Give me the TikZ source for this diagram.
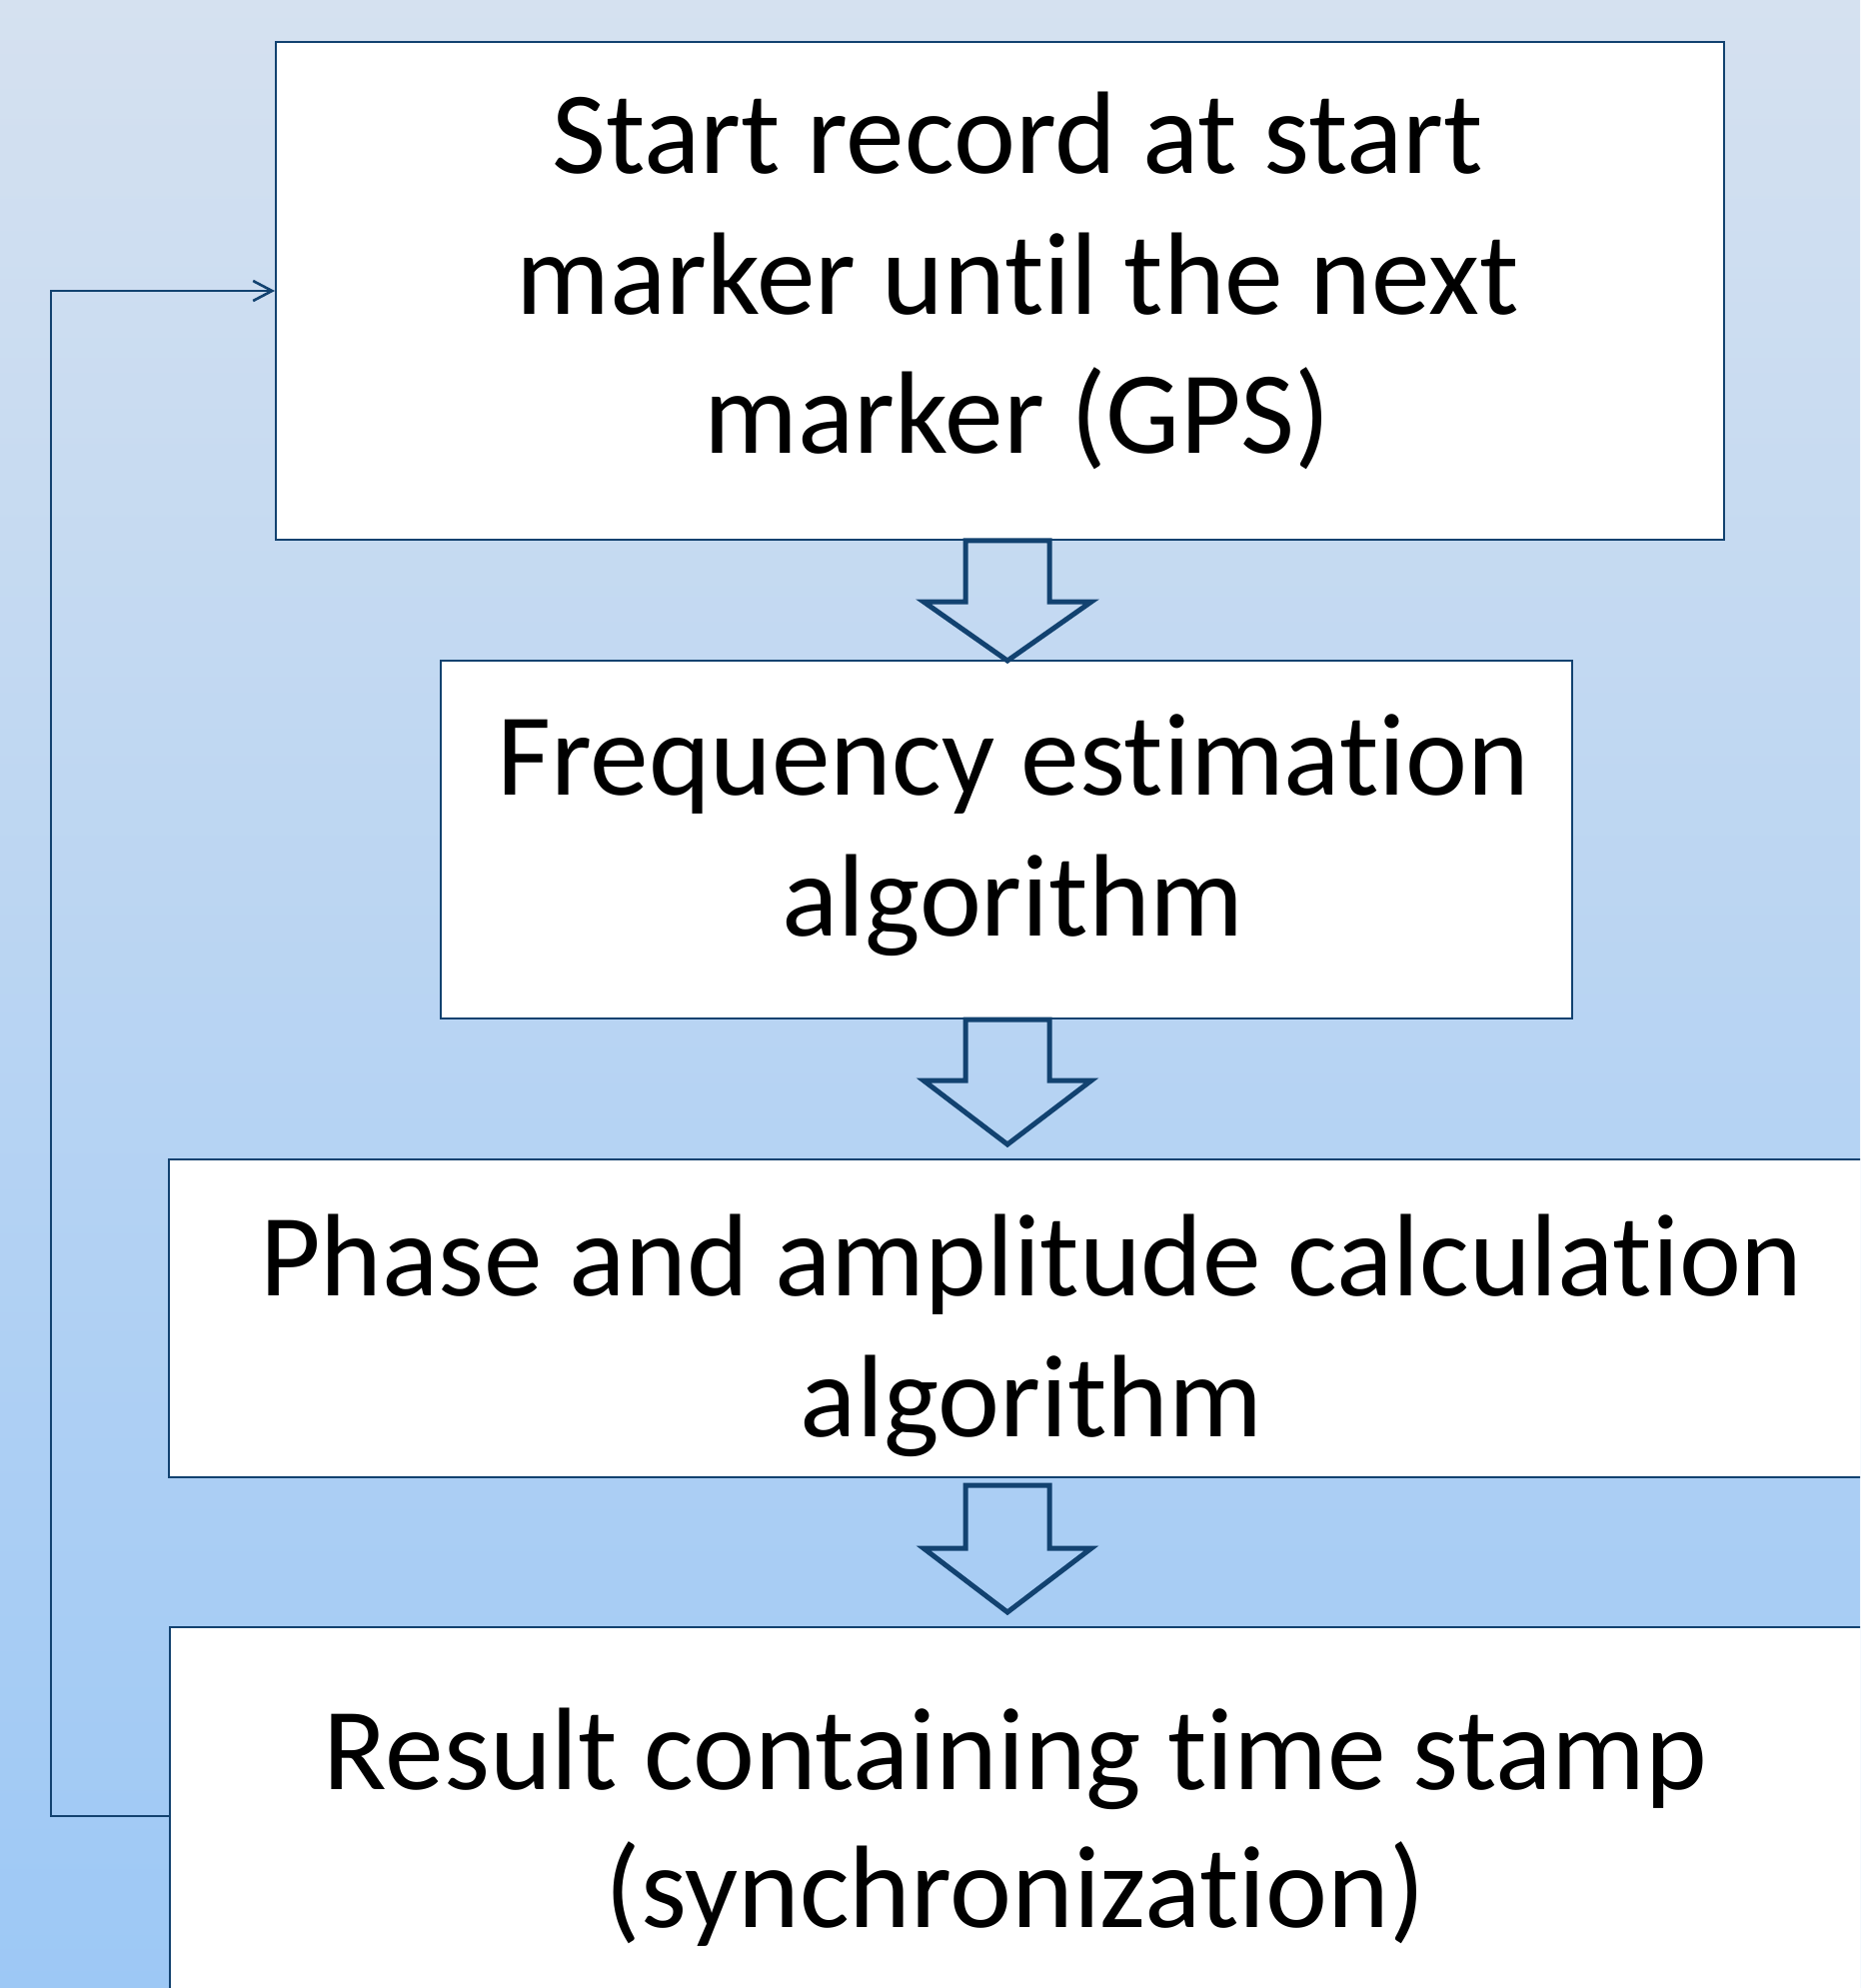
\documentclass[tikz,border=0pt]{standalone}
\usepackage{fontspec}
\setmainfont{Carlito}[Ligatures={NoCommon,NoRare,NoContextual}]
\usetikzlibrary{arrows.meta}
\definecolor{navy}{RGB}{18,66,112}
\definecolor{bgtop}{RGB}{213,225,240}
\definecolor{bgmid}{RGB}{199,216,237}
\definecolor{bgbot}{RGB}{157,200,245}
\tikzset{
  box/.style={draw=navy, line width=1pt, fill=white, rectangle, inner sep=0pt},
  txt/.style={anchor=base, inner sep=0pt, font=\fontsize{58.7}{70}\selectfont},
  blockarrow/.style={draw=navy, line width=2.5pt, line join=miter},
  fb/.style={draw=navy, line width=1.3pt, -{Straight Barb[length=9.5pt,width=10pt,line width=1.3pt]}}
}
\begin{document}
\begin{tikzpicture}[x=0.5pt,y=-0.5pt]
\useasboundingbox (0,0) rectangle (1861,1989);
\clip (0,0) rectangle (1861,1989);
\shade[top color=bgtop, middle color=bgmid, bottom color=bgbot] (0,0) rectangle (1861,1989);

% boxes
\node[box, minimum width=724.5pt, minimum height=249pt] (b1) at (1000.5,291) {};
\node[box, minimum width=565.75pt, minimum height=179pt] (b2) at (1007,840) {};
\node[box, minimum width=865.5pt, minimum height=159.25pt] (b3) at (1034.35,1318.75) {};
\node[box, minimum width=865pt, minimum height=201pt] (b4) at (1035,1829) {};

% texts
\node[txt] (t1a) at (1018,174) {Start record at start};
\node[txt] (t1b) at (1018,315) {marker until the next};
\node[txt] (t1c) at (1018,454) {marker (GPS)};
\node[txt] (t2a) at (1013.5,795) {Frequency estimation};
\node[txt] (t2b) at (1013.5,936) {algorithm};
\node[txt] (t3a) at (1032,1296.5) {Phase and amplitude calculation};
\node[txt] (t3b) at (1032,1437) {algorithm};
\node[txt] (t4a) at (1016,1790) {Result containing time stamp};
\node[txt] (t4b) at (1016,1928) {(synchronization)};

% block arrows
\draw[blockarrow] (966,541) -- (1050,541) -- (1050,602) -- (1092,602) -- (1008,661) -- (924,602) -- (966,602) -- cycle;
\draw[blockarrow] (966,1020) -- (1050,1020) -- (1050,1081) -- (1092,1081) -- (1008,1145) -- (924,1081) -- (966,1081) -- cycle;
\draw[blockarrow] (966,1486) -- (1050,1486) -- (1050,1549) -- (1092,1549) -- (1008,1613) -- (924,1549) -- (966,1549) -- cycle;

% feedback connector
\coordinate (fbstart) at (51,1817);
\draw[fb] (b4.west |- fbstart) -- (fbstart) |- (b1.west);
\end{tikzpicture}
\end{document}
